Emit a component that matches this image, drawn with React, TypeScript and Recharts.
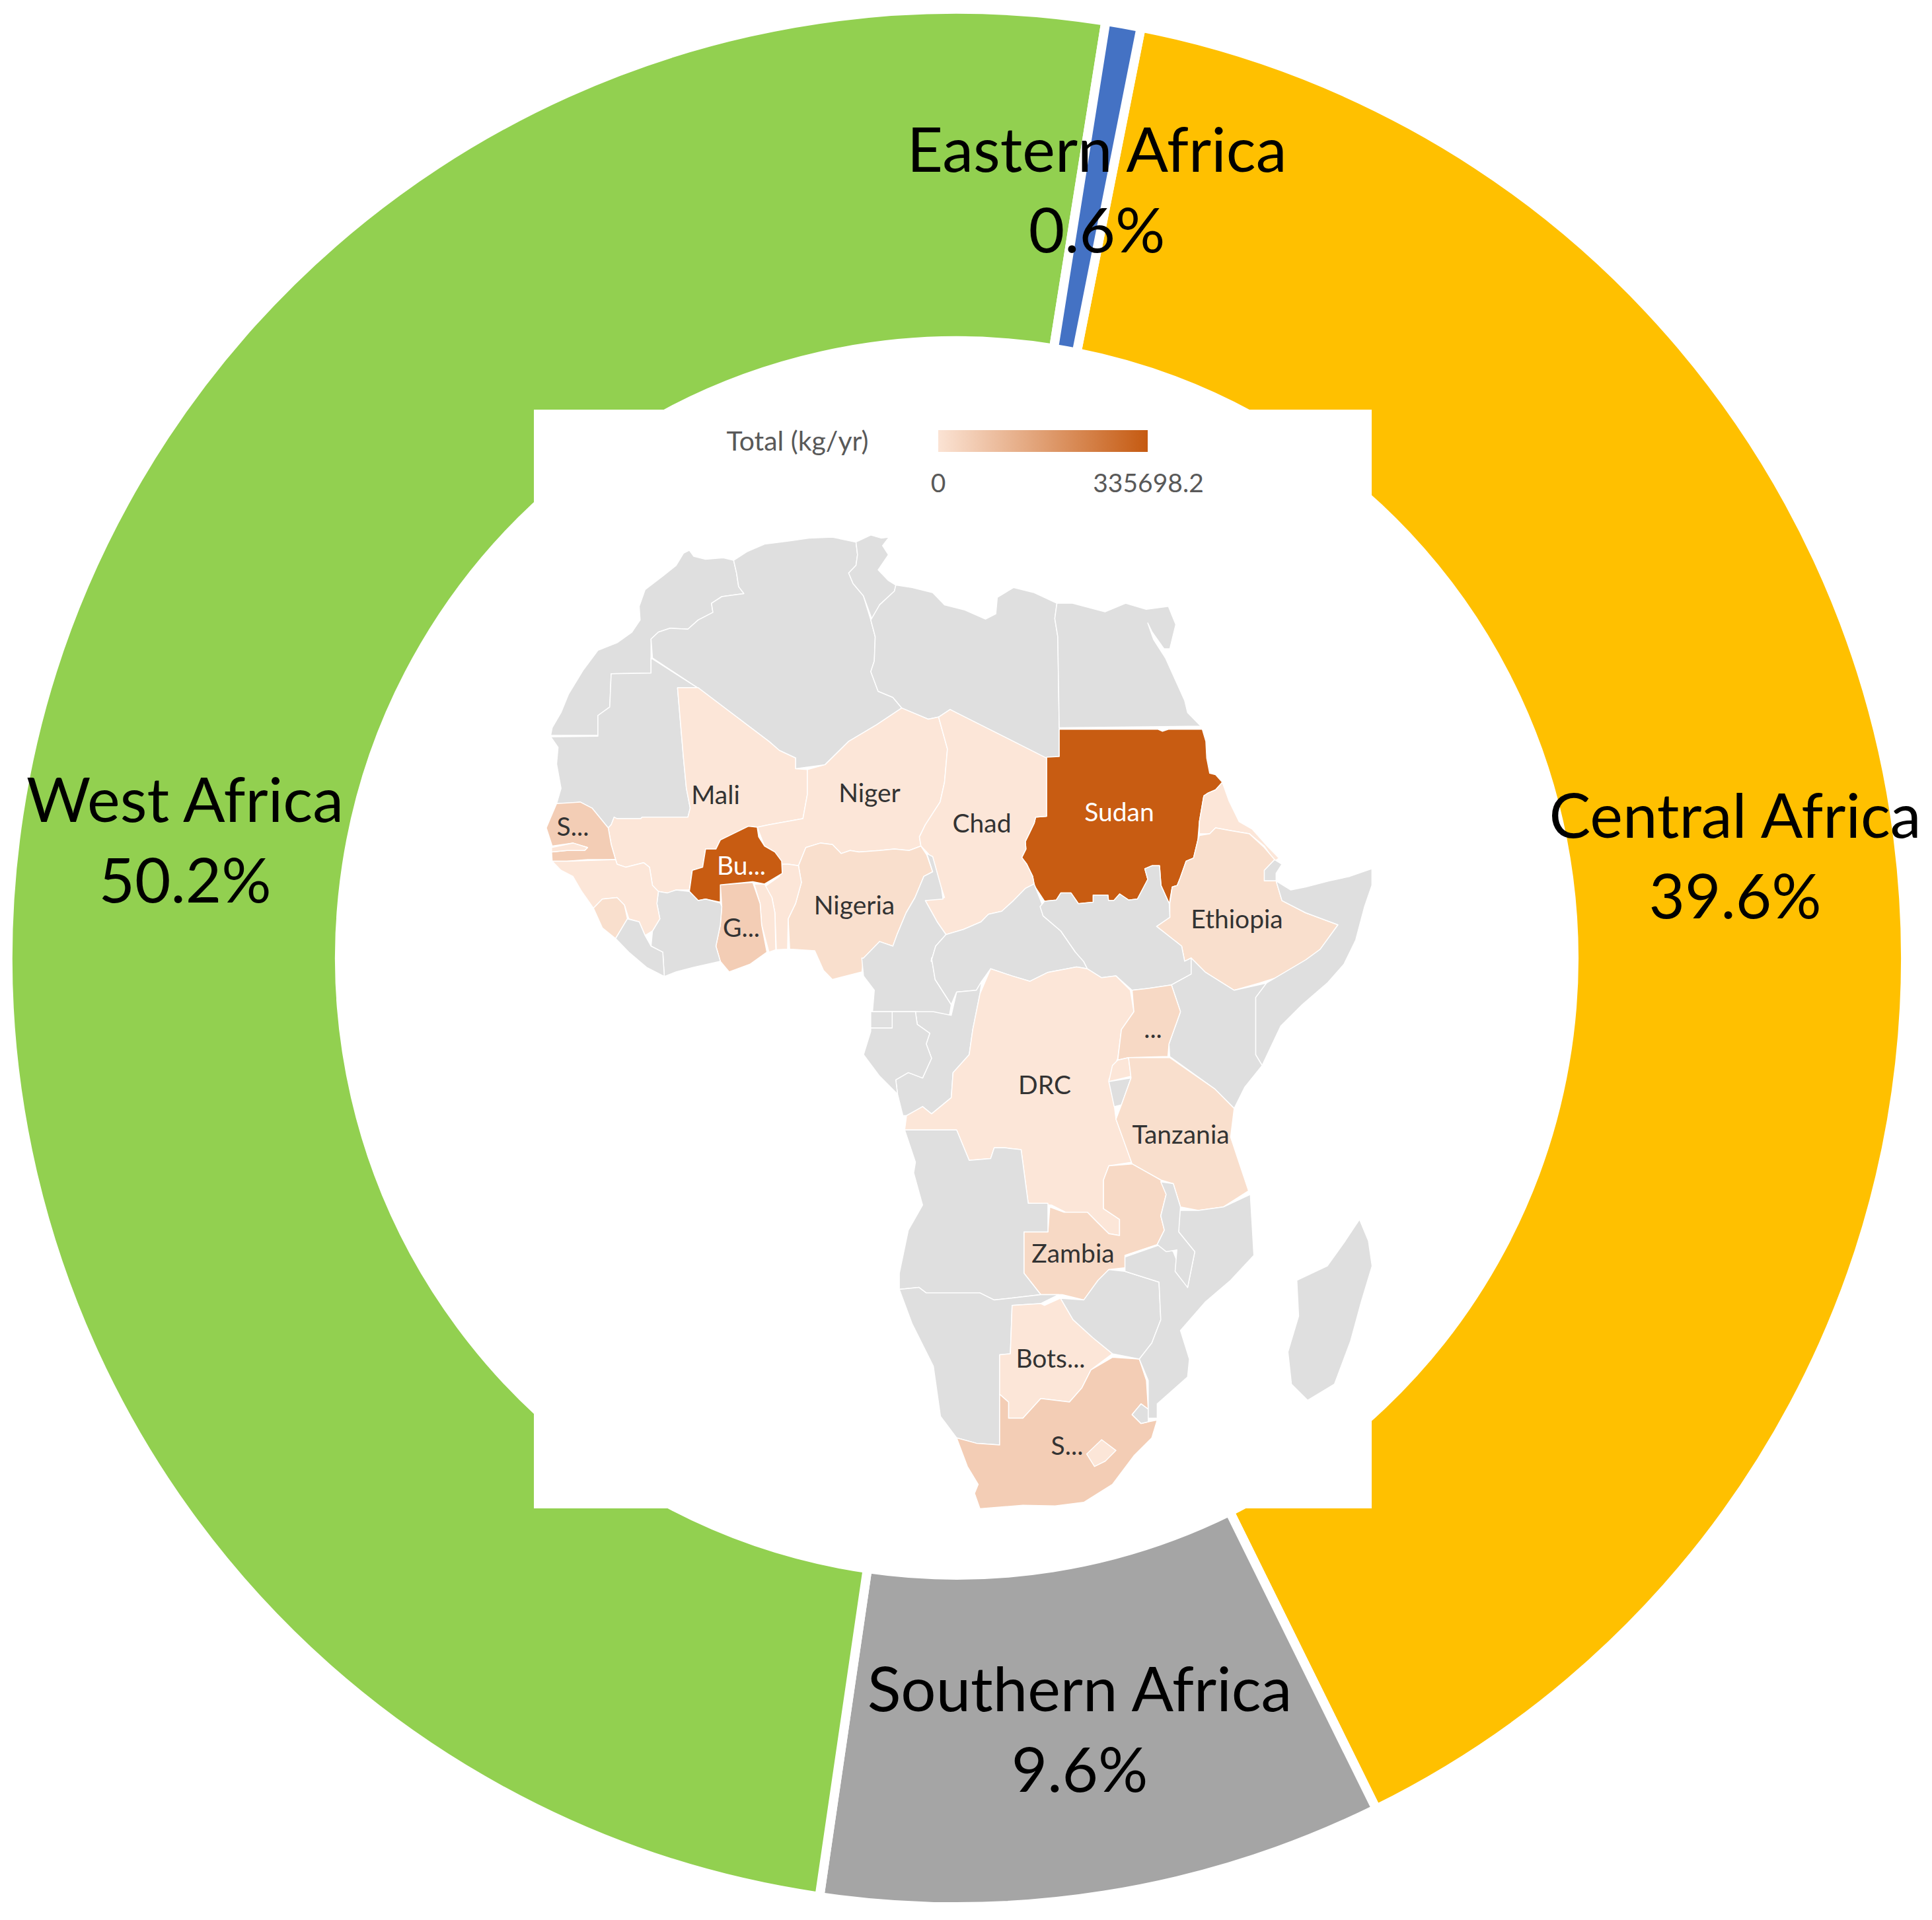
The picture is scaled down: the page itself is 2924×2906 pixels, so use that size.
import React from "react";
import { PieChart, Pie, Cell } from "recharts";

const WIDTH = 2924;
const HEIGHT = 2906;

// Donut data
const regions = ["Central Africa", "Southern Africa", "West Africa", "Eastern Africa"];
const shares = [39.6, 9.6, 50.2, 0.6];
const regionColors = ["#FFC000", "#A5A5A5", "#92D050", "#4472C4"];
const labelCenters = [
  [2626, 1268],
  [1634, 2590],
  [280, 1244],
  [1660, 260],
];
const tableData = regions.map((name, i) => ({ name, value: shares[i] }));

// Colour tones of the map
const GREY = "#DFDFDF";
const T1 = "#FCE6D8";
const T2 = "#F9DFCD";
const T3 = "#F7D9C5";
const T4 = "#F3CDB5";
const DARK = "#C85C12";

// Outline helpers: the three sets of tracing coordinates
const conv = (ox: number, oy: number, sx: number, sy: number) => (...p: number[]) => {
  const out: number[] = [];
  for (let i = 0; i < p.length; i += 2) out.push(ox + p[i] / sx, oy + p[i + 1] / sy);
  return out;
};
const A = conv(800, 780, 2.24, 2.178);
const B = conv(1400, 780, 2.24, 2.178);
const C = conv(1250, 1450, 1.845, 1.845);

const countries: [string, number[]][] = [
  [GREY, A(545,115,560,135,600,145,660,140,695,148,705,190,712,235,730,258,700,262,655,268,620,290,625,320,575,345,540,375,480,372,440,385,415,408,415,520,280,522,275,632,235,660,235,725,75,725,80,700,110,650,135,590,185,510,235,445,300,420,350,385,378,345,375,300,395,245,455,200,500,165,525,125)],
  [GREY, A(695,148,740,120,800,95,880,85,950,75,1030,72,1110,88,1115,130,1110,165,1085,190,1100,225,1135,265,1160,345,1175,400,1172,480,1160,515,1185,580,1235,600,1265,635,1180,690,1085,745,1005,822,905,835,905,800,850,775,815,745,575,570,420,470,415,408,440,385,480,372,540,375,575,345,625,320,620,290,655,268,700,262,730,258,712,235,705,190)],
  [GREY, A(1110,88,1160,65,1195,75,1222,72,1200,100,1220,130,1185,180,1220,215,1245,230,1240,250,1190,295,1165,345,1135,265,1100,225,1085,190,1110,165,1115,130)],
  [GREY, [...A(1245,230,1300,238,1370,255,1410,295,1490,315), ...B(130,310,205,342,240,325,245,270,300,238,370,255,447,290,440,340,450,400,455,700,455,795,412,805,85,640,46,665,11,672), ...A(1265,635,1235,600,1185,580,1160,515,1172,480,1175,400,1160,345,1190,295,1240,250)]],
  [GREY, B(447,290,500,290,610,318,680,290,750,310,825,300,850,360,830,440,810,440,770,385,755,355,775,410,815,470,880,610,890,650,935,695,455,700,450,400,440,340)],
  [DARK, B(455,705,790,705,805,712,825,705,940,705,952,745,955,800,965,850,985,855,1008,880,985,905,960,915,945,925,930,1010,925,1070,910,1130,885,1140,865,1195,855,1220,838,1225,828,1280,800,1220,795,1155,770,1155,745,1165,755,1200,720,1265,690,1268,660,1248,640,1270,622,1270,620,1252,570,1252,570,1275,520,1280,495,1245,460,1245,445,1268,405,1272,370,1220,365,1190,345,1150,328,1128,342,1100,340,1075,355,1045,370,1015,375,995,412,992,412,797,455,795)],
  [T1, B(960,915,985,905,1008,880,1030,940,1065,1010,1110,1035,1160,1090,1200,1130,1185,1140,1150,1090,1100,1050,1040,1040,985,1030,965,1050,930,1050,930,1010,945,925)],
  [GREY, B(1185,1135,1210,1150,1190,1180,1190,1205,1150,1205,1150,1170)],
  [T2, [...B(930,1055,965,1050,985,1030,1040,1040,1100,1050,1150,1095,1185,1135,1150,1170,1150,1205,1190,1205,1210,1270,1290,1310,1400,1350,1340,1430,1285,1495), ...C(1210,70,1140,90,1060,40,1020,0), ...B(880,1470,870,1420,785,1355,830,1325,830,1280,838,1225,855,1220,865,1195,885,1140,910,1130,925,1070)]],
  [GREY, [...B(1190,1205,1240,1235,1290,1225,1370,1205,1440,1190,1515,1165,1515,1220,1490,1290,1460,1400,1420,1480), ...C(1400,70,1330,130,1270,190,1218,300,1200,270,1200,110,1230,70,1340,5), ...B(1340,1430,1400,1350,1290,1310,1210,1270)]],
  [GREY, A(415,470,575,570,505,570,525,800,535,900,548,965,540,995,385,995,380,1000,300,1000,290,995,280,1020,270,1030,215,965,175,945,130,950,95,950,110,900,95,820,100,765,75,730,235,728,235,660,275,632,280,522,415,520)],
  [T1, A(505,568,575,568,815,745,850,775,905,800,905,835,945,838,945,920,930,1000,815,1020,775,1028,745,1025,650,1070,635,1100,600,1100,590,1160,555,1170,545,1235,500,1235,470,1245,440,1240,420,1220,410,1160,390,1145,330,1160,300,1150,295,1135,280,1085,270,1030,280,1020,290,995,300,1000,380,1000,385,995,540,995,548,965,535,900,525,800)],
  [T4, A(95,950,175,945,215,965,270,1030,280,1085,295,1135,200,1135,130,1140,80,1140,78,1110,130,1105,190,1105,200,1095,150,1080,80,1090,60,1030)],
  [T1, A(78,1095,150,1080,200,1095,190,1105,130,1105,78,1110)],
  [T1, A(945,838,1005,822,1085,745,1180,690,1265,635,1355,672,1390,665,1420,770,1410,880,1395,945,1345,1020,1325,1060,1330,1090,1290,1105,1240,1100,1190,1105,1120,1110,1090,1105,1060,1115,1030,1085,990,1080,940,1095,915,1155,880,1150,860,1150,835,1110,800,1090,775,1028,815,1020,930,1000,945,920)],
  [T1, B(85,640,412,800,412,992,375,995,370,1015,355,1045,340,1075,342,1100,328,1128,345,1150,365,1190,370,1215,340,1230,300,1270,260,1305,215,1315,190,1340,130,1365,71,1382,41,1340,1,1270,66,1260,56,1230,26,1160,11,1115,-14,1090,-19,1060,1,1020,51,945,66,880,76,770,46,665)],
  [T2, A(940,1095,990,1080,1030,1085,1060,1115,1090,1105,1120,1110,1190,1105,1240,1100,1290,1105,1330,1090,1350,1120,1370,1175,1340,1190,1310,1260,1280,1310,1250,1380,1235,1420,1190,1405,1135,1460,1130,1505,1030,1530,1000,1500,970,1435,885,1430,880,1330,905,1280,925,1210,915,1155)],
  [T1, A(860,1150,880,1150,915,1155,925,1210,905,1280,880,1330,878,1430,840,1432,835,1310,825,1260,800,1225,850,1190)],
  [T1, A(765,1215,800,1215,825,1260,835,1310,838,1432,815,1440,790,1350,785,1280)],
  [T4, A(650,1218,760,1210,785,1280,790,1350,808,1440,750,1480,680,1505,650,1470,635,1420,650,1350,655,1290)],
  [DARK, A(745,1025,775,1028,780,1060,800,1090,835,1110,858,1140,860,1180,800,1215,760,1208,650,1218,650,1275,600,1265,575,1270,545,1240,555,1170,590,1160,600,1100,635,1100,650,1070)],
  [GREY, A(440,1240,470,1245,500,1235,545,1240,575,1270,600,1265,650,1278,655,1290,650,1350,635,1420,650,1470,560,1490,500,1505,460,1520,455,1440,415,1420,420,1370,445,1330,435,1280)],
  [T1, A(80,1140,130,1140,295,1135,300,1150,330,1160,390,1145,410,1160,420,1220,440,1240,435,1280,445,1330,420,1370,395,1385,375,1340,340,1330,325,1285,300,1260,250,1265,220,1295,180,1240,150,1190,110,1170)],
  [T2, A(220,1295,250,1265,300,1260,325,1285,335,1330,295,1395,250,1360)],
  [GREY, A(295,1395,335,1330,375,1340,395,1385,415,1420,455,1440,460,1520,400,1490,340,1440)],
  [GREY, [...A(1235,1420,1250,1380,1280,1310,1310,1260,1340,1190,1370,1175,1350,1115,1370,1125,1400,1230,1405,1265,1345,1270,1385,1340,1415,1382,1380,1420,1365,1470), ...C(295,0,305,60,350,130,345,160,250,150,130,150,135,90,105,50,100,0), ...A(1135,1460,1190,1405)]],
  [GREY, [...B(71,1382,130,1365,190,1340,215,1315,260,1305,300,1270,340,1230,370,1215,400,1290,400,1320,460,1370,510,1440,550,1470), ...C(720,10,730,30,700,25,620,40,570,65,520,50,460,30,435,65,420,90,365,95,350,130,305,60,295,0), ...A(1365,1470,1380,1420)]],
  [GREY, [...B(405,1272,445,1268,460,1245,495,1245,520,1280,570,1275,570,1252,620,1252,622,1270,640,1270,660,1248,690,1268,720,1265,755,1200,745,1165,770,1155,795,1155,800,1220,828,1280,830,1325,785,1355,870,1420,880,1470), ...C(1020,0,1020,45,965,75,900,85,855,90,810,50,770,55,730,30,720,10), ...B(510,1440,460,1370,400,1320,390,1290)]],
  [GREY, C(965,75,1020,45,1020,0,1060,40,1140,90,1230,70,1200,110,1200,270,1218,300,1170,360,1140,420,1085,365,960,275,958,240,990,150)],
  [GREY, C(350,160,365,95,420,90,435,65,430,100,410,200,400,270,355,320,350,390,295,435,270,415,230,440,215,440,200,380,195,340,230,320,270,335,295,280,280,240,290,210,255,185,250,150,300,150)],
  [GREY, C(125,195,185,195,185,150,250,150,255,185,290,210,280,240,295,280,270,335,230,320,195,340,200,380,150,330,105,270,125,205)],
  [GREY, C(125,150,185,150,185,195,125,195)],
  [T1, C(460,30,520,50,570,65,620,40,700,25,730,30,770,55,810,50,850,90,860,150,825,200,815,280,790,340,805,410,810,450,855,570,790,580,775,620,775,700,820,730,820,775,790,770,760,740,730,710,670,710,630,690,565,685,545,535,500,530,470,530,460,560,400,565,365,480,220,480,225,440,270,415,295,435,350,390,355,320,400,270,410,200,430,100)],
  [T3, C(855,90,900,85,965,75,990,150,958,240,955,275,845,278,815,285,825,200,860,150)],
  [T1, C(815,285,845,278,852,330,790,345,800,300)],
  [GREY, C(790,345,852,335,825,410,805,415)],
  [T2, C(845,278,960,278,1085,365,1140,420,1130,500,1150,560,1180,650,1110,695,1040,705,990,695,970,630,935,620,855,575,810,450,825,410,852,335)],
  [T3, C(775,620,790,580,855,575,935,620,950,660,935,720,945,760,925,800,835,830,835,865,790,870,760,900,720,955,660,940,600,940,553,880,553,765,620,765,625,695,665,710,730,710,760,740,790,770,820,775,820,730,775,700)],
  [GREY, C(220,480,365,480,400,565,460,560,470,530,500,530,545,535,565,685,620,685,620,765,553,765,553,880,600,940,470,955,430,935,280,935,260,920,205,925,205,880,230,760,270,690,245,600,250,570)],
  [GREY, C(205,925,260,920,280,935,430,935,470,955,600,940,650,940,600,965,520,970,515,1105,485,1108,485,1360,420,1355,365,1340,320,1280,300,1140,240,1020)],
  [T1, C(520,970,600,965,610,970,655,950,690,1010,745,1060,800,1105,740,1150,715,1200,680,1240,600,1230,550,1285,510,1285,510,1240,485,1218,485,1108,515,1105)],
  [T4, C(800,1115,875,1120,895,1180,900,1260,880,1245,855,1275,880,1300,900,1295,925,1290,910,1340,860,1390,800,1470,720,1520,640,1530,550,1528,430,1538,415,1495,425,1470,395,1420,365,1340,420,1355,485,1360,485,1218,510,1240,510,1285,550,1285,600,1230,680,1240,715,1200,740,1150)],
  [T1, C(770,1345,810,1375,780,1405,750,1420,728,1385)],
  [GREY, C(880,1245,900,1260,900,1295,880,1300,855,1275)],
  [GREY, C(690,1010,655,950,720,955,760,900,790,870,835,875,930,905,935,1010,910,1075,875,1120,800,1105,745,1060)],
  [GREY, C(980,705,1040,705,1110,695,1185,660,1195,830,1130,900,1060,960,990,1040,1015,1120,1010,1170,925,1245,925,1285,900,1285,900,1180,875,1120,910,1075,935,1010,930,905,835,875,835,835,935,800,970,820,1010,920,1030,820,985,765,985,720)],
  [GREY, C(935,625,970,630,990,695,985,765,1030,820,1010,920,975,875,980,815,950,820,925,800,945,760,935,720,950,660)],
  [GREY, C(1490,730,1515,790,1525,860,1495,960,1465,1070,1420,1190,1345,1235,1300,1190,1290,1100,1320,1000,1315,900,1400,860,1450,790)],
];

// Map labels
const mapLabelNames = ["Mali", "Niger", "Chad", "Sudan", "S...", "Bu...", "G...", "Nigeria", "Ethiopia", "DRC", "...", "Tanzania", "Zambia", "Bots...", "S..."];
const mapLabelX = [1083, 1316, 1486, 1694, 867, 1122, 1122, 1293, 1872, 1581, 1745, 1787, 1624, 1590, 1615];
const mapLabelY = [1203, 1200, 1246, 1229, 1251, 1310, 1404, 1370, 1391, 1642, 1557, 1717, 1897, 2056, 2188];
const mapLabelFill = ["#333", "#333", "#333", "#fff", "#333", "#fff", "#333", "#333", "#333", "#333", "#333", "#333", "#333", "#333", "#333"];

const FONT = "Lato";

const renderLabel = (p: any) => {
  const i = p.index as number;
  const [x, y] = labelCenters[i];
  return (
    <text x={x} y={y} textAnchor="middle" fontFamily={FONT} fontSize={94} fill="#000">
      <tspan x={x} dy={0}>{regions[i]}</tspan>
      <tspan x={x} dy={122}>{shares[i].toFixed(1)}%</tspan>
    </text>
  );
};

export default function App() {
  return (
    <div style={{ position: "absolute", left: 0, top: 0, width: WIDTH, height: HEIGHT, overflow: "hidden", background: "#fff" }}>
      <PieChart width={WIDTH} height={HEIGHT} margin={{ top: 0, right: 0, bottom: 0, left: 0 }}>
        <Pie
          data={tableData}
          dataKey="value"
          nameKey="name"
          cx={1448}
          cy={1450}
          outerRadius={1436}
          innerRadius={934}
          startAngle={78.8}
          endAngle={-281.2}
          stroke="#fff"
          strokeWidth={14}
          label={renderLabel}
          labelLine={false}
          isAnimationActive={false}
        >
          {regions.map((r, i) => (
            <Cell key={r} fill={regionColors[i]} />
          ))}
        </Pie>
      </PieChart>
      <svg width={WIDTH} height={HEIGHT} style={{ position: "absolute", left: 0, top: 0 }}>
        <defs>
          <linearGradient id="scale" x1="0" x2="1" y1="0" y2="0">
            <stop offset="0" stopColor="#FBE3D4" />
            <stop offset="1" stopColor="#C55A11" />
          </linearGradient>
        </defs>
        <rect x={808} y={620} width={1268} height={1663} fill="#fff" />
        <text x={1207} y={682} textAnchor="middle" fontFamily={FONT} fontSize={41} fill="#595959">Total (kg/yr)</text>
        <rect x={1420} y={651} width={317} height={33} fill="url(#scale)" />
        <text x={1420} y={745} textAnchor="middle" fontFamily={FONT} fontSize={39} fill="#595959">0</text>
        <text x={1738} y={745} textAnchor="middle" fontFamily={FONT} fontSize={39} fill="#595959">335698.2</text>
        {countries.map(([fill, pts], i) => (
          <polygon key={i} points={pts.map((v) => v.toFixed(1)).join(" ")} fill={fill} stroke="#fff" strokeWidth={1.5} strokeLinejoin="round" />
        ))}
        {mapLabelNames.map((n, i) => (
          <text key={i} x={mapLabelX[i]} y={mapLabelY[i] + 14} textAnchor="middle" fontFamily={FONT} fontSize={39} fill={mapLabelFill[i]}>{n}</text>
        ))}
      </svg>
    </div>
  );
}
